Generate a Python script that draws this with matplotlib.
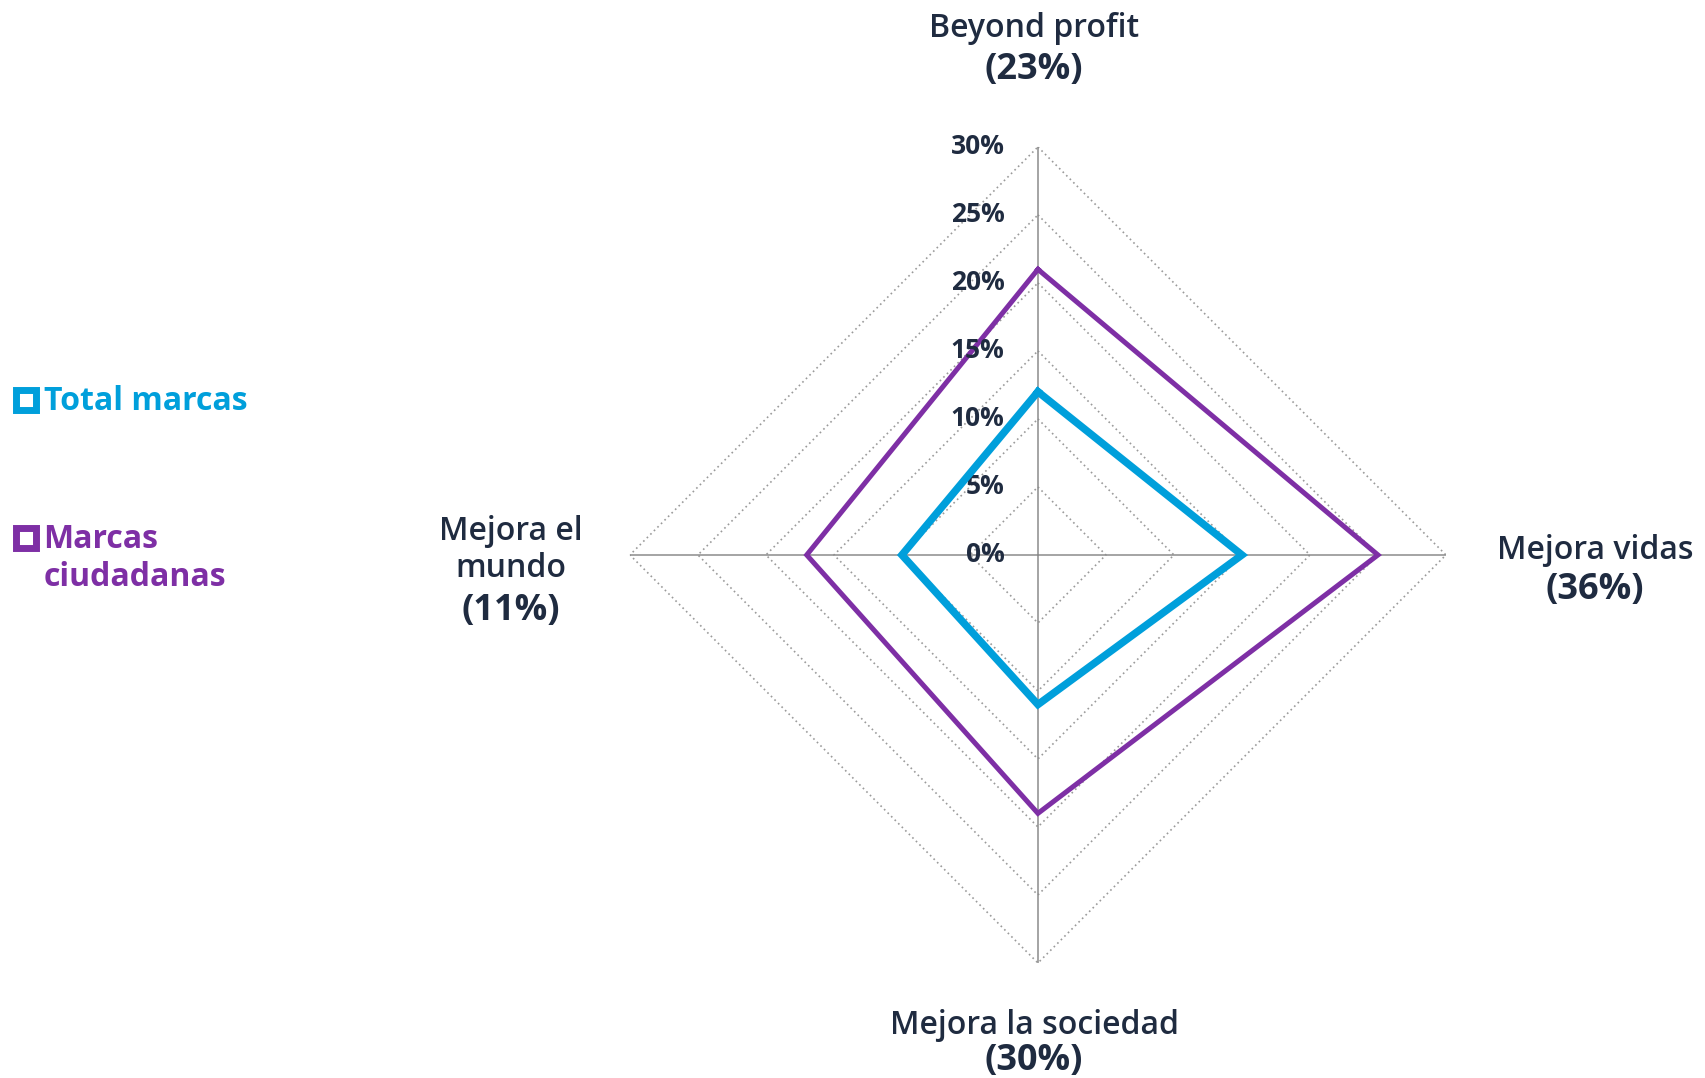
import numpy as np
import matplotlib.pyplot as plt
from matplotlib.lines import Line2D

# Datos
categorias = ['Beyond profit', 'Mejora vidas', 'Mejora la sociedad', 'Mejora el mundo']
porcentajes_cat = ['23%', '36%', '30%', '11%']
total_marcas = [12, 15, 11, 10]
marcas_ciudadanas = [21, 25, 19, 17]
niveles = [0, 5, 10, 15, 20, 25, 30]
series = ['Total marcas', 'Marcas\nciudadanas']

azul = '#009FDB'
morado = '#7E2FA5'
texto = '#1F2B40'

plt.rcParams['font.family'] = ['Open Sans', 'DejaVu Sans']

fig = plt.figure(figsize=(17.06, 10.78), dpi=100)
ax = fig.add_axes([0.3692, 0.1067, 0.4784, 0.757], projection='polar')
ax.set_theta_offset(np.pi / 2)
ax.set_theta_direction(-1)

angulos = np.linspace(0, 2 * np.pi, len(categorias), endpoint=False)
angulos_c = np.concatenate([angulos, angulos[:1]])

# rejilla en forma de rombo
for n in niveles[1:]:
    ax.plot(angulos_c, [n] * (len(categorias) + 1), color='#9a9a9a', lw=1.2,
            linestyle=(0, (1, 2)), zorder=1)
for a in angulos:
    ax.plot([a, a], [0, 30], color='#8c8c8c', lw=1.1, zorder=1)

def cerrar(v):
    return list(v) + [v[0]]

ax.plot(angulos_c, cerrar(marcas_ciudadanas), color=morado, lw=3.6, zorder=3,
        solid_joinstyle='miter', label=series[1])
ax.plot(angulos_c, cerrar(total_marcas), color=azul, lw=5.4, zorder=4,
        solid_joinstyle='miter', label=series[0])

ax.set_ylim(0, 30)
ax.grid(False)
ax.spines['polar'].set_visible(False)
ax.set_xticks([])
ax.set_yticks([])

# etiquetas del eje radial
for n in niveles:
    ax.annotate(f'{n}%', xy=(0, n), xytext=(-24, 0), textcoords='offset points',
                ha='right', va='center', fontsize=19, fontweight='bold', color=texto)

# etiquetas de categorias
fig.text(0.6062, 0.974, categorias[0], ha='center', va='center', fontsize=23,
         fontweight='semibold', color=texto)
fig.text(0.6062, 0.935, f'({porcentajes_cat[0]})', ha='center', va='center',
         fontsize=26, fontweight='bold', color=texto)

fig.text(0.935, 0.489, categorias[1], ha='center', va='center', fontsize=23,
         fontweight='semibold', color=texto)
fig.text(0.935, 0.453, f'({porcentajes_cat[1]})', ha='center', va='center',
         fontsize=26, fontweight='bold', color=texto)

fig.text(0.6062, 0.049, categorias[2], ha='center', va='center', fontsize=23,
         fontweight='semibold', color=texto)
fig.text(0.6062, 0.016, f'({porcentajes_cat[2]})', ha='center', va='center',
         fontsize=26, fontweight='bold', color=texto)

fig.text(0.2995, 0.490, 'Mejora el\nmundo', ha='center', va='center', fontsize=23,
         fontweight='semibold', color=texto, linespacing=1.15)
fig.text(0.2995, 0.433, f'({porcentajes_cat[3]})', ha='center', va='center',
         fontsize=26, fontweight='bold', color=texto)

# leyenda (manual, el marcador va con la primera linea)
for nombre, color, y in zip(series, [azul, morado], [0.629, 0.501]):
    fig.add_artist(Line2D([0.0155], [y], marker='s', linestyle='', markersize=15,
                          markerfacecolor='white', markeredgecolor=color,
                          markeredgewidth=5, transform=fig.transFigure))
    fig.text(0.0255, y + 0.014, nombre, ha='left', va='top', fontsize=23,
             fontweight='bold', color=color, linespacing=1.2)

fig.savefig('out.png', dpi=100, facecolor='white')
